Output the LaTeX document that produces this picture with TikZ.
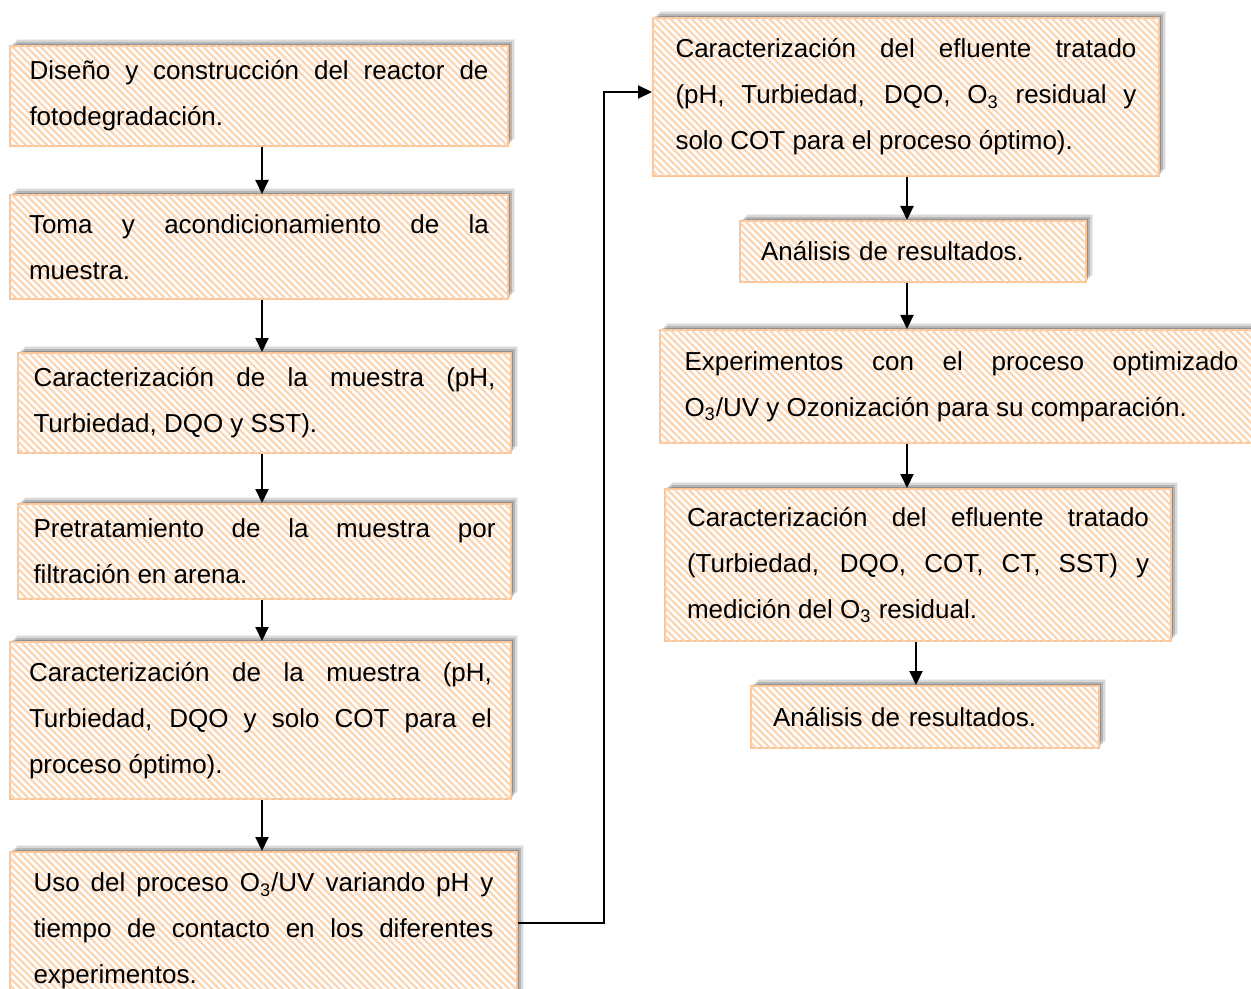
\documentclass[tikz,border=0pt]{standalone}
\usepackage{fontspec}
\setmainfont{Liberation Sans}
\usetikzlibrary{arrows.meta}
\usetikzlibrary{shadows}
\usetikzlibrary{patterns.meta}

\definecolor{borde}{RGB}{250,196,150}
\definecolor{rayado}{RGB}{252,212,178}
\hyphenpenalty=10000
\exhyphenpenalty=10000

\tikzset{
	paso/.style={rectangle, draw=borde, line width=1pt, fill=white, anchor=north west,
		inner sep=0pt, align=justify, font=\fontsize{13}{23}\selectfont,
		drop shadow={shadow xshift=3.5pt, shadow yshift=3.5pt, fill=black, opacity=.06},
		drop shadow={shadow xshift=2.8pt, shadow yshift=2.8pt, fill=black, opacity=.1},
		drop shadow={shadow xshift=2pt, shadow yshift=2pt, fill=black, opacity=.16},
		drop shadow={shadow xshift=1.2pt, shadow yshift=1.2pt, fill=black, opacity=.2},
		postaction={pattern color=rayado, pattern={Lines[angle=-45,distance=2.5pt,line width=1.1pt]}}},
	flecha/.style={-{Triangle[length=7pt,width=6.5pt]}, line width=1pt}
}

\begin{document}
\begin{tikzpicture}[x=0.5pt,y=-0.5pt]
	\useasboundingbox (0,0) rectangle (1251,989);
	% columna izquierda
	\node[paso, minimum width=249pt, minimum height=50pt, text width=229.5pt] (diseno) at (9,45)
		{Diseño y construcción del reactor de\linebreak fotodegradación.};
	\node[paso, minimum width=249pt, minimum height=52pt, text width=230pt] (toma) at (9,194)
		{Toma y acondicionamiento de la\linebreak muestra.};
	\node[paso, minimum width=246.5pt, minimum height=50pt, text width=231pt] (caracA) at (17,352)
		{Caracterización de la muestra (pH,\linebreak Turbiedad, DQO y SST).};
	\node[paso, minimum width=246.5pt, minimum height=47.5pt, text width=231pt] (pretrat) at (17,503)
		{Pretratamiento de la muestra por\linebreak filtración en arena.};
	\node[paso, minimum width=250.5pt, minimum height=78.5pt, text width=231.5pt] (caracB) at (9,641)
		{Caracterización de la muestra (pH,\linebreak Turbiedad, DQO y solo COT para el\linebreak proceso óptimo).};
	\node[paso, minimum width=253.5pt, minimum height=79pt, text width=230pt] (uso) at (9,851)
		{Uso del proceso O\textsubscript{3}/UV variando pH y\linebreak tiempo de contacto en los diferentes\linebreak experimentos.};
	% columna derecha
	\node[paso, minimum width=253pt, minimum height=79pt, text width=230.5pt] (efluA) at (652,17)
		{Caracterización del efluente tratado\linebreak (pH, Turbiedad, DQO, O\textsubscript{3} residual y\linebreak solo COT para el proceso óptimo).};
	\node[paso, align=left, minimum width=173pt, minimum height=30.5pt, text width=152pt] (analA) at (739,220)
		{Análisis de resultados.};
	\node[paso, minimum width=301.5pt, minimum height=56.5pt, text width=277pt] (exper) at (659,329)
		{Experimentos con el proceso optimizado\linebreak O\textsubscript{3}/UV y Ozonización para su comparación.};
	\node[paso, minimum width=253pt, minimum height=76pt, text width=231pt] (efluB) at (664,488)
		{Caracterización del efluente tratado\linebreak (Turbiedad, DQO, COT, CT, SST) y\linebreak medición del O\textsubscript{3} residual.};
	\node[paso, align=left, minimum width=174pt, minimum height=31pt, text width=152pt] (analB) at (750,685)
		{Análisis de resultados.};
	% flechas
	\coordinate (colI) at (262,0);
	\coordinate (colD) at (907,0);
	\coordinate (colE) at (916,0);
	\coordinate (codo) at (604,923);
	\coordinate (entrada) at (0,92);
	\draw[flecha] (diseno.south -| colI) -- (toma.north -| colI);
	\draw[flecha] (toma.south -| colI) -- (caracA.north -| colI);
	\draw[flecha] (caracA.south -| colI) -- (pretrat.north -| colI);
	\draw[flecha] (pretrat.south -| colI) -- (caracB.north -| colI);
	\draw[flecha] (caracB.south -| colI) -- (uso.north -| colI);
	\draw[flecha] (uso.east |- codo) -- (codo) |- (efluA.west |- entrada);
	\draw[flecha] (efluA.south -| colD) -- (analA.north -| colD);
	\draw[flecha] (analA.south -| colD) -- (exper.north -| colD);
	\draw[flecha] (exper.south -| colD) -- (efluB.north -| colD);
	\draw[flecha] (efluB.south -| colE) -- (analB.north -| colE);
\end{tikzpicture}
\end{document}
